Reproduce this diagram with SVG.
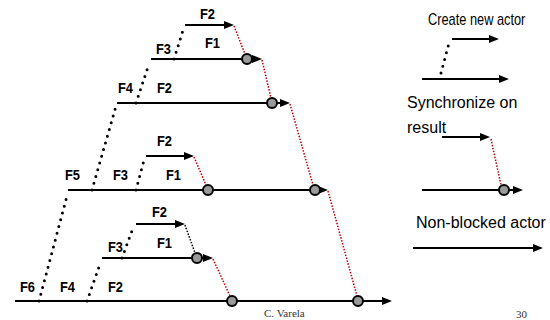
<svg xmlns="http://www.w3.org/2000/svg" width="550" height="320" viewBox="0 0 550 320">
<style>
.ln{stroke:#000;stroke-width:2;fill:none;marker-end:url(#ah)}
.cr{stroke:#000;stroke-width:3;stroke-dasharray:0 7;stroke-linecap:round;fill:none}
.sy{stroke:#c00000;stroke-width:1.5;stroke-dasharray:1.5 1.5;fill:none}
.syb{stroke:#000;stroke-width:1.5;stroke-dasharray:1.5 1.5;fill:none}
.c{fill:#999;stroke:#000;stroke-width:2}
.f{font-family:"Liberation Sans",Arial,sans-serif;font-weight:bold;font-size:15px;fill:#000}
.lg{font-family:"Liberation Sans",Arial,sans-serif;font-size:16px;fill:#000}
.ft{font-family:"Liberation Serif","Times New Roman",serif;font-size:11px;fill:#333}
</style>
<defs>
<marker id="ah" markerUnits="userSpaceOnUse" viewBox="0 0 10 8" markerWidth="10" markerHeight="8" refX="1" refY="4" orient="auto">
<path d="M0,0 L10,4 L0,8 z" fill="#000"/>
</marker>
</defs>
<g id="connectors">
<line class="cr" x1="174" y1="59" x2="184" y2="27"/>
<line class="cr" x1="136" y1="103" x2="149" y2="64"/>
<line class="cr" x1="92" y1="190" x2="116" y2="106"/>
<line class="cr" x1="136" y1="190" x2="144" y2="160"/>
<line class="cr" x1="39" y1="301" x2="67" y2="196"/>
<line class="cr" x1="87" y1="301" x2="100" y2="264"/>
<line class="cr" x1="122" y1="258" x2="133" y2="228"/>
<line class="sy" x1="234" y1="26" x2="245" y2="54"/>
<line class="sy" x1="262" y1="60" x2="271" y2="98"/>
<line class="sy" x1="290" y1="104" x2="313" y2="185"/>
<line class="sy" x1="328" y1="191" x2="357" y2="296"/>
<line class="sy" x1="194" y1="157" x2="206" y2="185"/>
<line class="syb" x1="185" y1="225" x2="195" y2="253"/>
<line class="sy" x1="213" y1="259" x2="230" y2="296"/>
</g>
<g id="actor-top">
<line class="ln" x1="185" y1="25" x2="225" y2="25"/>
<text class="f" transform="translate(200,19) scale(0.86,1)">F2</text>
</g>
<g id="actor-row2">
<line class="ln" x1="151" y1="59" x2="253" y2="59"/>
<circle class="c" cx="247" cy="59" r="5"/>
<text class="f" transform="translate(205,48) scale(0.86,1)">F1</text>
<text class="f" transform="translate(156,54) scale(0.86,1)">F3</text>
</g>
<g id="actor-row3">
<line class="ln" x1="117" y1="103" x2="281" y2="103"/>
<circle class="c" cx="272" cy="103" r="5"/>
<text class="f" transform="translate(118,93) scale(0.86,1)">F4</text>
<text class="f" transform="translate(157,93) scale(0.86,1)">F2</text>
</g>
<g id="actor-row4-top">
<line class="ln" x1="146" y1="156" x2="185" y2="156"/>
<text class="f" transform="translate(157,146) scale(0.86,1)">F2</text>
</g>
<g id="actor-row4">
<line class="ln" x1="68" y1="190" x2="319" y2="190"/>
<circle class="c" cx="208" cy="190" r="5"/>
<circle class="c" cx="315" cy="190" r="5"/>
<text class="f" transform="translate(65,180) scale(0.86,1)">F5</text>
<text class="f" transform="translate(113,180) scale(0.86,1)">F3</text>
<text class="f" transform="translate(166,180) scale(0.86,1)">F1</text>
</g>
<g id="actor-bottom-top">
<line class="ln" x1="136" y1="224" x2="176" y2="224"/>
<text class="f" transform="translate(152,217) scale(0.86,1)">F2</text>
</g>
<g id="actor-bottom-mid">
<line class="ln" x1="102" y1="258" x2="204" y2="258"/>
<circle class="c" cx="197" cy="258" r="5"/>
<text class="f" transform="translate(108,252) scale(0.86,1)">F3</text>
<text class="f" transform="translate(157,248) scale(0.86,1)">F1</text>
</g>
<g id="actor-bottom">
<line class="ln" x1="15" y1="301" x2="383" y2="301"/>
<circle class="c" cx="232" cy="301" r="5"/>
<circle class="c" cx="358" cy="301" r="5"/>
<text class="f" transform="translate(20,292) scale(0.86,1)">F6</text>
<text class="f" transform="translate(60,292) scale(0.86,1)">F4</text>
<text class="f" transform="translate(108,292) scale(0.86,1)">F2</text>
</g>
<g id="legend-create">
<text class="lg" transform="translate(428,25) scale(0.8,1)">Create new actor</text>
<line class="cr" x1="441" y1="73" x2="449" y2="43"/>
<line class="ln" x1="452" y1="39" x2="490" y2="39"/>
<line class="ln" x1="422" y1="79" x2="500" y2="79"/>
</g>
<g id="legend-sync">
<text class="lg" x="407" y="108">Synchronize on</text>
<text class="lg" x="407" y="133">result</text>
<line class="ln" x1="442" y1="137" x2="481" y2="137"/>
<line class="sy" x1="491" y1="139" x2="501" y2="185"/>
<line class="ln" x1="422" y1="190" x2="514" y2="190"/>
<circle class="c" cx="504" cy="190" r="5"/>
</g>
<g id="legend-nonblocked">
<text class="lg" x="416" y="228">Non-blocked actor</text>
<line class="ln" x1="413" y1="248" x2="534" y2="248"/>
</g>
<g id="footer">
<text class="ft" x="264" y="317">C. Varela</text>
<text class="ft" x="516" y="318">30</text>
</g>
</svg>
